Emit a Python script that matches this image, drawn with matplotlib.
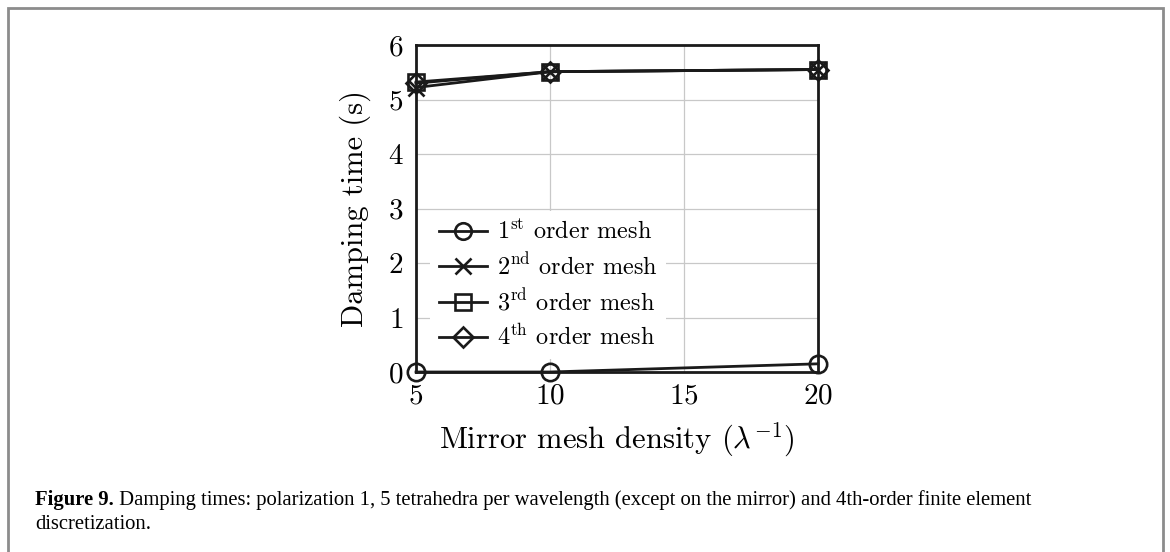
import matplotlib
matplotlib.use("Agg")
import matplotlib.pyplot as plt
from matplotlib.patches import Rectangle

density = [5, 10, 20]
order1 = [0.0, 0.0, 0.15]
order2 = [5.22, 5.51, 5.55]
order3 = [5.32, 5.51, 5.55]
order4 = [5.30, 5.51, 5.55]
labels = [r"$1^{\mathrm{st}}$ order mesh", r"$2^{\mathrm{nd}}$ order mesh",
          r"$3^{\mathrm{rd}}$ order mesh", r"$4^{\mathrm{th}}$ order mesh"]
xticks = [5, 10, 15, 20]
yticks = [0, 1, 2, 3, 4, 5, 6]
caption_bold = "Figure 9."
caption_line1 = " Damping times: polarization 1, 5 tetrahedra per wavelength (except on the mirror) and 4th-order finite element"
caption_line2 = "discretization."

plt.rcParams['font.family'] = 'serif'
plt.rcParams['font.serif'] = ['cmr10']
plt.rcParams['mathtext.fontset'] = 'cm'
plt.rcParams['axes.formatter.use_mathtext'] = True

W, H = 1170, 552
fig = plt.figure(figsize=(W/100, H/100), dpi=100)
ax = fig.add_axes([416/W, 1-372/H, (818-416)/W, (372-45)/H])

c = '#1a1a1a'
lw = 2.0
common = dict(color=c, lw=lw, mew=1.9, clip_on=False, zorder=5)
ax.plot(density, order1, '-', marker='o', ms=12.5, mfc='none', label=labels[0], **common)
ax.plot(density, order2, '-', marker='x', ms=12, label=labels[1], **common)
ax.plot(density, order3, '-', marker='s', ms=12, mfc='none', label=labels[2], **common)
ax.plot(density, order4, '-', marker='D', ms=10.5, mfc='none', label=labels[3], **common)

ax.set_xlim(5, 20)
ax.set_ylim(0, 6)
ax.set_xticks(xticks)
ax.set_yticks(yticks)
ax.grid(True, color='#c8c8c8', lw=0.9)
ax.set_axisbelow(True)
for s in ax.spines.values():
    s.set_linewidth(2.0)
    s.set_color(c)
ax.tick_params(axis='both', direction='in', length=0, labelsize=21)
ax.tick_params(axis='x', pad=8)
ax.tick_params(axis='y', pad=9)
ax.set_xlabel(r"Mirror mesh density ($\lambda^{-1}$)", fontsize=22, labelpad=8)
ax.set_ylabel("Damping time (s)", fontsize=22, labelpad=12)

leg = ax.legend(loc='lower left', bbox_to_anchor=(0.035, 0.04), frameon=True, fontsize=17.5,
                handlelength=2.0, borderaxespad=0.0, borderpad=0.35, labelspacing=0.38,
                handletextpad=0.4, markerscale=0.95)
leg.get_frame().set_edgecolor('none')
leg.get_frame().set_facecolor('white')
leg.get_frame().set_alpha(1.0)
leg.get_frame().set_boxstyle('square', pad=0)

# outer border
fig.patches.append(Rectangle((8/W, -0.1), (1163-8)/W, 1-8/H+0.1, transform=fig.transFigure,
                             fill=False, edgecolor='#8c8c8c', lw=2.0))

cap_fs = 14.9
fig.canvas.draw()
r = fig.canvas.get_renderer()
t0 = fig.text(35/W, 1-505/H, caption_bold, fontsize=cap_fs, fontweight='bold',
              family='Liberation Serif', va='baseline')
bb = t0.get_window_extent(renderer=r)
fig.text(bb.x1/W, 1-505/H, caption_line1, fontsize=cap_fs, family='Liberation Serif', va='baseline')
fig.text(35/W, 1-529/H, caption_line2, fontsize=cap_fs, family='Liberation Serif', va='baseline')

fig.savefig("out.png", dpi=100)
